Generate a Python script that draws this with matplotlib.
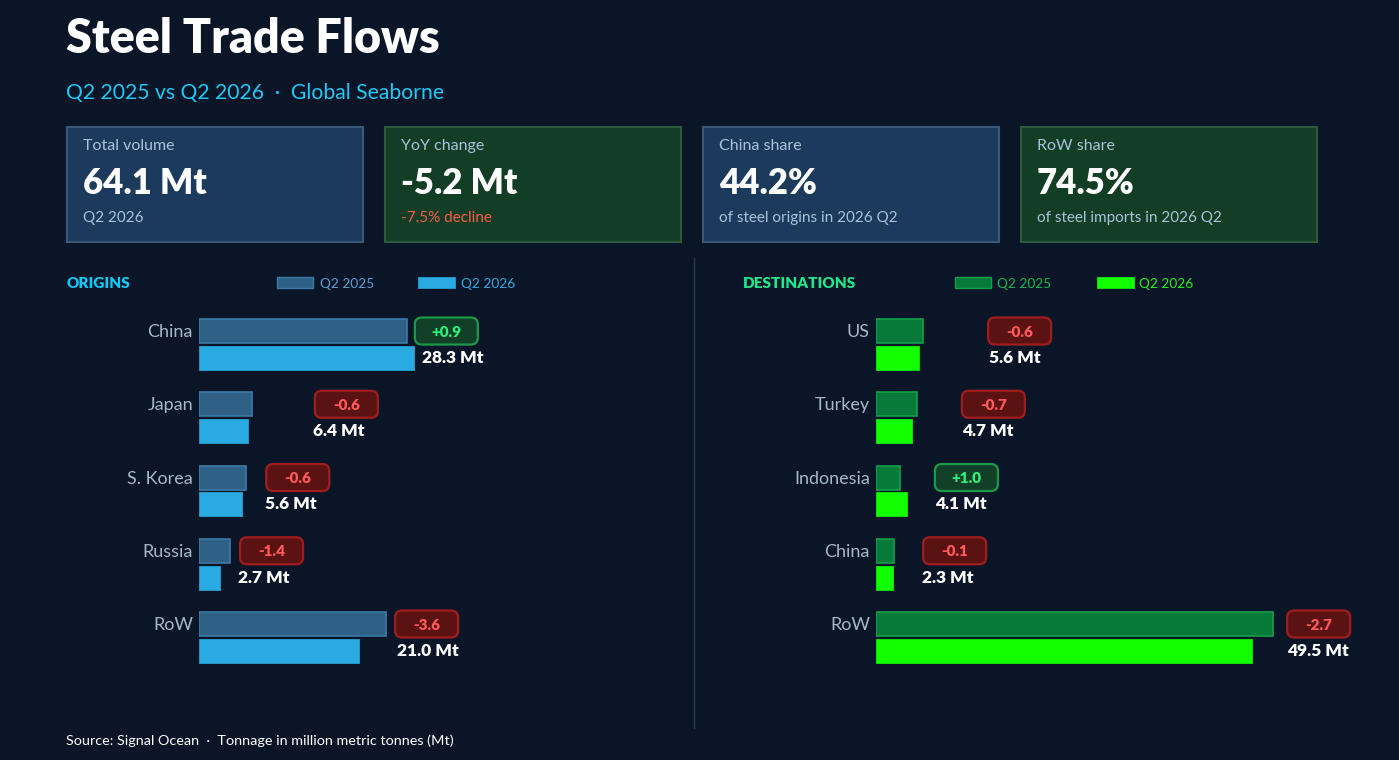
import matplotlib
matplotlib.use('Agg')
import matplotlib.pyplot as plt
from matplotlib.patches import FancyBboxPatch, Rectangle

plt.rcParams['font.family'] = ['Lato', 'DejaVu Sans']

# data
origin_names = ['China', 'Japan', 'S. Korea', 'Russia', 'RoW']
origin_2025 = [27.4, 7.0, 6.2, 4.1, 24.6]
origin_2026 = [28.3, 6.4, 5.6, 2.7, 21.0]

dest_names = ['US', 'Turkey', 'Indonesia', 'China', 'RoW']
dest_2025 = [6.2, 5.4, 3.1, 2.4, 52.2]
dest_2026 = [5.6, 4.7, 4.1, 2.3, 49.5]

kpi_labels = ['Total volume', 'YoY change', 'China share', 'RoW share']
kpi_values = ['64.1 Mt', '-5.2 Mt', '44.2%', '74.5%']
kpi_notes = ['Q2 2026', '-7.5% decline', 'of steel origins in 2026 Q2', 'of steel imports in 2026 Q2']

# where the value label / delta tag sit (Mt units along the bar axis)
origin_label_x = [29.35, 15.0, 8.7, 5.1, 26.05]
origin_badge_x = [28.4, 15.25, 8.85, 5.4, 25.8]
dest_label_x = [14.87, 11.3, 7.75, 6.05, 54.1]
dest_badge_x = [14.75, 11.3, 7.75, 6.2, 54.1]

BG = '#0a1628'
W, H = 1399, 760
PX_PER_MT = 7.6

fig = plt.figure(figsize=(W / 100, H / 100), dpi=100, facecolor=BG)

# overlay in pixel coordinates for cards, titles and badges
ov = fig.add_axes([0, 0, 1, 1])
ov.set_xlim(0, W)
ov.set_ylim(H, 0)
ov.axis('off')
ov.patch.set_alpha(0)
ov.set_zorder(5)


def bar_axes(left_px):
    ax = fig.add_axes([left_px / W, (H - 690) / H, 500 / W, 390 / H])
    ax.set_xlim(0, 500 / PX_PER_MT)
    ax.set_ylim(4.717, -0.6075)
    ax.axis('off')
    ax.patch.set_alpha(0)
    return ax


def badge(ax, x, y, delta):
    dx, dy = ax.transData.transform((x, y))
    px, py = dx, H - dy
    if delta >= 0:
        fc, ec, tc = '#123f28', '#1a9a48', '#2ef07a'
    else:
        fc, ec, tc = '#5a1212', '#a11d1d', '#ff5a5a'
    ov.add_patch(FancyBboxPatch((px, py - 13.5), 63, 27,
                                boxstyle='round,pad=0,rounding_size=7',
                                fc=fc, ec=ec, lw=1.6))
    ov.text(px + 31.5, py + 1, f'{delta:+.1f}', color=tc, fontsize=11,
            fontweight='heavy', ha='center', va='center')


def draw_panel(left_px, names, v25, v26, label_x, badge_x, c25, e25, c26):
    ax = bar_axes(left_px)
    rows = range(len(names))
    off, h = 0.184, 0.328
    ax.barh([i - off for i in rows], v25, height=h, color=c25,
            edgecolor=e25, linewidth=1.2)
    ax.barh([i + off for i in rows], v26, height=h, color=c26,
            edgecolor=c26, linewidth=0.5)
    for i, name in enumerate(names):
        ax.text(-0.8, i - off + 0.015, name, ha='right', va='center',
                color='#a6b8c8', fontsize=13)
        ax.text(label_x[i], i + off, f'{v26[i]:.1f} Mt', ha='left',
                va='center', color='white', fontsize=12.5, fontweight='heavy')
        badge(ax, badge_x[i], i - off, round(v26[i] - v25[i], 1))
    return ax


# title block
ov.text(66, 39, 'Steel Trade Flows', color='white', fontsize=33.5,
        fontweight='heavy', va='center')
ov.text(66, 93, 'Q2 2025 vs Q2 2026  ·  Global Seaborne', color='#1ec8f5',
        fontsize=15.2, va='center')

# KPI cards
card_x = [67, 385, 703, 1021]
card_styles = [('#1b3a5c', '#3b5877'), ('#113e25', '#2d5a3e'),
               ('#1b3a5c', '#3b5877'), ('#113e25', '#2d5a3e')]
for i, x in enumerate(card_x):
    fc, ec = card_styles[i]
    ov.add_patch(Rectangle((x, 127), 296, 115, fc=fc, ec=ec, lw=1.5))
    ov.text(x + 16, 146, kpi_labels[i], color='#a9c3dc', fontsize=11.5, va='center')
    ov.text(x + 16, 184, kpi_values[i], color='white', fontsize=25,
            fontweight='heavy', va='center')
    note_col = '#ff5a4a' if i == 1 else '#a9c3dc'
    ov.text(x + 16, 218, kpi_notes[i], color=note_col, fontsize=11, va='center')

# section headers + legends
ov.text(67, 284, 'ORIGINS', color='#10c8f5', fontsize=11, fontweight='heavy', va='center')
ov.add_patch(Rectangle((277, 277), 36, 11, fc='#2e6185', ec='#3d7aa8', lw=1))
ov.text(320, 284, 'Q2 2025', color='#5a9fcf', fontsize=9.8, va='center')
ov.add_patch(Rectangle((418, 277), 37, 11, fc='#29abe2', ec='#29abe2', lw=0.5))
ov.text(461, 284, 'Q2 2026', color='#29abe2', fontsize=9.8, va='center')

ov.text(743, 284, 'DESTINATIONS', color='#1ee88c', fontsize=11, fontweight='heavy', va='center')
ov.add_patch(Rectangle((955, 277), 36, 11, fc='#077a39', ec='#12a04a', lw=1))
ov.text(997, 284, 'Q2 2025', color='#14b84a', fontsize=9.8, va='center')
ov.add_patch(Rectangle((1097, 277), 37, 11, fc='#11ff00', ec='#11ff00', lw=0.5))
ov.text(1139, 284, 'Q2 2026', color='#22ee22', fontsize=9.8, va='center')

ov.plot([694, 694], [258, 728], color='#2c3a4a', lw=1)

draw_panel(199, origin_names, origin_2025, origin_2026, origin_label_x,
           origin_badge_x, '#2e6185', '#3d7aa8', '#29abe2')
draw_panel(876, dest_names, dest_2025, dest_2026, dest_label_x,
           dest_badge_x, '#077a39', '#12a04a', '#11ff00')

ov.text(66, 741, 'Source: Signal Ocean  ·  Tonnage in million metric tonnes (Mt)',
        color='white', fontsize=10.4, va='center')

fig.savefig('out.png', dpi=100, facecolor=BG)
